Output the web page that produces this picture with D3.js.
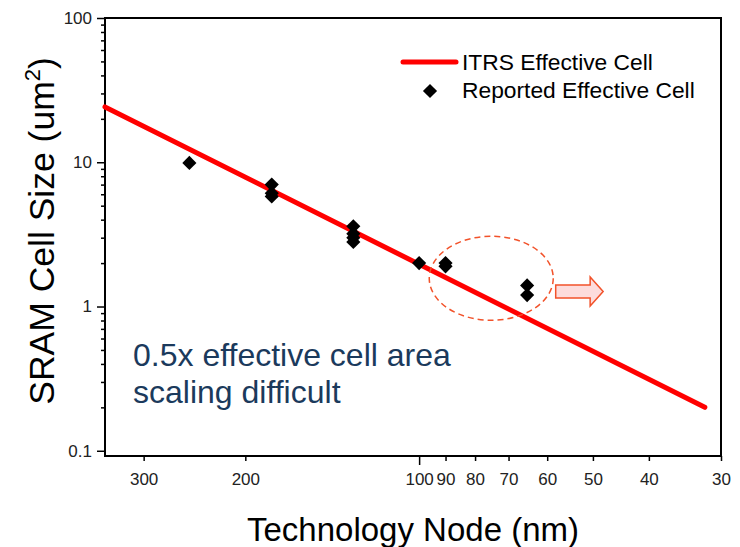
<!DOCTYPE html>
<html>
<head>
<meta charset="utf-8">
<script src="https://cdn.jsdelivr.net/npm/d3@7"></script>
<style>
  body { margin: 0; background: #fff; }
  text { font-family: Arial, "Liberation Sans", sans-serif; }
</style>
</head>
<body>
<div id="container"></div>
<script>
const w = 740;
const h = 547;

// ITRS trend line (node in nm, cell size in um^2)
let itrsNode = [350, 32];
let itrsSize = [24.2, 0.2];

// reported cells
let reportedNode = [250, 180, 180, 180, 130, 130, 130, 130, 100, 90, 90, 65, 65];
let reportedSize = [9.9, 7.0, 6.1, 5.8, 3.6, 3.2, 3.0, 2.8, 2.0, 2.0, 1.9, 1.4, 1.2];

// tick labels
let xTicks = [300, 200, 100, 90, 80, 70, 60, 50, 40, 30];
let yTicks = [0.1, 1, 10, 100];

// annotation anchors (data space)
let ellipseCenter = [75, 1.57];
let arrowFrom = [58, 1.27];
let arrowTo = [48, 1.27];

let viz = d3.select("#container").append("svg").attr("width", w).attr("height", h);

let xScale = d3.scaleLog().domain([350, 30]).range([105, 721]);
let yScale = d3.scaleLog().domain([0.092, 100]).range([456, 18]);

// axes
let xAxis = d3.axisBottom(xScale).tickValues(xTicks).tickFormat(d3.format("d")).tickSize(5).tickSizeOuter(0).tickPadding(12);
let xAxisGroup = viz.append("g").attr("class", "xaxis").attr("transform", "translate(0,456)");
xAxisGroup.call(xAxis);
xAxisGroup.selectAll(".tick line").attr("y2", function(d){ return d == 100 ? 9 : 5 });

let minorY = [];
[0.1, 1, 10].forEach(function(dec){
  for (let i = 2; i <= 9; i++) minorY.push(dec * i);
});
let yMinor = d3.axisLeft(yScale).tickValues(minorY).tickFormat("").tickSize(4).tickSizeOuter(0);
viz.append("g").attr("class", "yminor").attr("transform", "translate(105,0)").call(yMinor);

let yAxis = d3.axisLeft(yScale).tickValues(yTicks).tickFormat(function(d){ return d }).tickSize(8).tickSizeOuter(0).tickPadding(5);
let yAxisGroup = viz.append("g").attr("class", "yaxis").attr("transform", "translate(105,0)");
yAxisGroup.call(yAxis);

viz.selectAll(".xaxis .tick line, .yaxis .tick line, .yminor .tick line").attr("stroke", "#000").attr("stroke-width", 1.5);
viz.selectAll(".xaxis path, .yaxis path, .yminor path").remove();
viz.selectAll(".xaxis text, .yaxis text").attr("font-size", 17).attr("fill", "#222");

// frame
viz.append("rect")
  .attr("x", 105).attr("y", 18)
  .attr("width", 721 - 105).attr("height", 456 - 18)
  .attr("fill", "none").attr("stroke", "#000").attr("stroke-width", 2);

// axis titles
viz.append("text")
  .attr("x", 413).attr("y", 541)
  .attr("text-anchor", "middle").attr("font-size", 33)
  .text("Technology Node (nm)");

let yTitle = viz.append("text")
  .attr("transform", "translate(54,231) rotate(-90)")
  .attr("text-anchor", "middle").attr("font-size", 35.5);
yTitle.append("tspan").text("SRAM Cell Size (um");
yTitle.append("tspan").attr("font-size", 22).attr("dy", -14).text("2");
yTitle.append("tspan").attr("dy", 14).text(")");

// ITRS line
let itrs = itrsNode.map(function(n, i){ return { node: n, size: itrsSize[i] } });
let line = d3.line()
  .x(function(d){ return xScale(d.node) })
  .y(function(d){ return yScale(d.size) });
viz.append("path").datum(itrs)
  .attr("d", line)
  .attr("fill", "none").attr("stroke", "#ff0000")
  .attr("stroke-width", 5).attr("stroke-linecap", "round");

// reported points
let reported = reportedNode.map(function(n, i){ return { node: n, size: reportedSize[i] } });
let diamond = d3.symbol().type(d3.symbolSquare).size(100);
viz.selectAll(".pt").data(reported).enter()
  .append("path")
  .attr("class", "pt")
  .attr("d", diamond)
  .attr("transform", function(d){
    return "translate(" + xScale(d.node) + "," + yScale(d.size) + ") rotate(45)";
  })
  .attr("fill", "#000");

// legend
viz.append("line")
  .attr("x1", 403).attr("x2", 456).attr("y1", 62).attr("y2", 62)
  .attr("stroke", "#ff0000").attr("stroke-width", 5).attr("stroke-linecap", "round");
viz.append("text").attr("x", 462).attr("y", 70).attr("font-size", 22.8).text("ITRS Effective Cell");
viz.append("path").attr("d", diamond).attr("transform", "translate(430,91) rotate(45)").attr("fill", "#000");
viz.append("text").attr("x", 462).attr("y", 98).attr("font-size", 22.8).text("Reported Effective Cell");

// annotation: dashed ellipse and arrow
viz.append("ellipse")
  .attr("cx", xScale(ellipseCenter[0])).attr("cy", yScale(ellipseCenter[1]))
  .attr("rx", 62).attr("ry", 42)
  .attr("fill", "none").attr("stroke", "#f2522a").attr("stroke-width", 1.5)
  .attr("stroke-dasharray", "6,4");

let ax0 = xScale(arrowFrom[0]);
let ax1 = xScale(arrowTo[0]);
let ay = yScale(arrowFrom[1]);
let head = 13;
let arrowPts = [
  [ax0, ay - 6.5], [ax1 - head, ay - 6.5], [ax1 - head, ay - 14.5],
  [ax1, ay], [ax1 - head, ay + 14.5], [ax1 - head, ay + 6.5], [ax0, ay + 6.5]
];
viz.append("path")
  .attr("d", d3.line()(arrowPts) + "Z")
  .attr("fill", "#fddcdc").attr("stroke", "#f2522a").attr("stroke-width", 1.5);

// annotation text
let note = viz.append("text").attr("font-size", 32).attr("fill", "#1b3a5c");
note.append("tspan").attr("x", 133).attr("y", 366).text("0.5x effective cell area");
note.append("tspan").attr("x", 133).attr("y", 403).text("scaling difficult");
</script>
</body>
</html>
